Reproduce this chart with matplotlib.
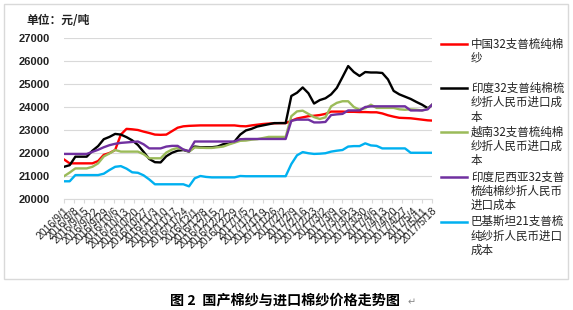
import matplotlib
matplotlib.use("Agg")
import matplotlib.pyplot as plt
import matplotlib.dates as mdates
from matplotlib.lines import Line2D
from matplotlib.patches import Rectangle
import pandas as pd

# ---------------- data ----------------
dates = pd.date_range("2016-09-01", periods=65, freq="4D").append(pd.DatetimeIndex(["2017-05-18"]))

china_32 = [21720, 21550, 21550, 21550, 21550, 21550, 21650, 21920, 22000, 22130,
            22800, 23050, 23030, 23000, 22930, 22870, 22800, 22790, 22800, 22950,
            23100, 23160, 23180, 23190, 23200, 23200, 23200, 23200, 23200, 23200,
            23200, 23170, 23160, 23200, 23230, 23260, 23280, 23290, 23300, 23300,
            23400, 23500, 23550, 23600, 23620, 23650, 23700, 23800, 23800, 23800,
            23790, 23790, 23780, 23780, 23770, 23770, 23720, 23640, 23580, 23530,
            23520, 23510, 23480, 23450, 23420, 23410]

india_32 = [21400, 21470, 21840, 21840, 21840, 22100, 22300, 22600, 22700, 22830,
            22800, 22690, 22550, 22350, 22050, 21740, 21600, 21590, 21860, 22010,
            22100, 22130, 22060, 22280, 22250, 22250, 22250, 22280, 22380, 22400,
            22500, 22800, 22980, 23050, 23150, 23200, 23250, 23300, 23300, 23300,
            24480, 24620, 24850, 24600, 24150, 24300, 24380, 24550, 24830, 25300,
            25780, 25520, 25350, 25520, 25500, 25500, 25480, 25200, 24700, 24550,
            24450, 24350, 24220, 24100, 23950, 24080]

vietnam_32 = [20990, 21150, 21330, 21330, 21330, 21400, 21550, 21850, 21980, 22130,
              22060, 22060, 22060, 22060, 21950, 21770, 21770, 21770, 22020, 22150,
              22220, 22150, 22070, 22240, 22230, 22220, 22220, 22250, 22280, 22370,
              22450, 22530, 22540, 22580, 22600, 22650, 22700, 22700, 22700, 22700,
              23600, 23810, 23840, 23700, 23560, 23480, 23550, 24030, 24180, 24250,
              24250, 24000, 23880, 23950, 24100, 23960, 23960, 23960, 23960, 23900,
              23880, 23900, 23880, 23850, 23920, 24100]

indonesia_32 = [21960, 21960, 21960, 21960, 21960, 22050, 22140, 22250, 22340, 22400,
                22440, 22460, 22480, 22500, 22380, 22200, 22200, 22200, 22280, 22310,
                22310, 22150, 22080, 22500, 22500, 22500, 22500, 22500, 22500, 22500,
                22500, 22600, 22610, 22610, 22610, 22610, 22610, 22610, 22610, 22610,
                23400, 23450, 23450, 23450, 23330, 23330, 23350, 23650, 23680, 23700,
                23850, 23850, 23850, 24000, 24030, 24030, 24030, 24030, 24030, 24030,
                24030, 23850, 23850, 23850, 23900, 24100]

pakistan_21 = [20770, 20770, 21040, 21040, 21040, 21040, 21040, 21100, 21260, 21400,
               21430, 21320, 21160, 21140, 21030, 20850, 20640, 20640, 20640, 20640,
               20640, 20640, 20550, 20900, 21000, 20960, 20940, 20940, 20940, 20940,
               20940, 21000, 20990, 20990, 20990, 20990, 20990, 20990, 20990, 20990,
               21520, 21900, 22040, 21990, 21960, 21970, 21990, 22060, 22100, 22130,
               22280, 22300, 22300, 22420, 22330, 22310, 22200, 22200, 22200, 22200,
               22200, 22010, 22010, 22010, 22010, 22010]

series_labels = ["中国32支普梳纯棉\n纱",
                 "印度32支普纯棉梳\n纱折人民币进口成\n本",
                 "越南32支普梳纯棉\n纱折人民币进口成\n本",
                 "印度尼西亚32支普\n梳纯棉纱折人民币\n进口成本",
                 "巴基斯坦21支普梳\n纯纱折人民币进口\n成本"]
series_colors = ["#ff0000", "#000000", "#9bbb59", "#7030a0", "#00b0f0"]

tick_dates = pd.date_range("2016-09-01", "2017-05-18", freq="7D")
tick_labels = [f"{d.year}/{d.month}/{d.day}" for d in tick_dates]
y_ticks = [20000, 21000, 22000, 23000, 24000, 25000, 26000, 27000]

unit_text = "单位：元/吨"
caption_text = "图 2  国产棉纱与进口棉纱价格走势图"

# ---------------- figure ----------------
W, H = 573, 310
fig = plt.figure(figsize=(W / 100, H / 100), dpi=100)
fig.patch.set_facecolor("white")

def fx(px):
    return px / W

def fy(py):
    return 1 - py / H

ax = fig.add_axes([fx(64), fy(199), (432 - 64) / W, (199 - 38) / H])

all_series = [china_32, india_32, vietnam_32, indonesia_32, pakistan_21]
for vals, col in zip(all_series, series_colors):
    ax.plot(dates, vals, color=col, lw=1.7, solid_joinstyle="round", zorder=3)

ax.set_ylim(20000, 27000)
ax.set_yticks(y_ticks)
ax.set_yticklabels([str(v) for v in y_ticks], family="Liberation Sans",
                   fontsize=8, fontweight="bold", color="#222222")
ax.set_xlim(dates[0], dates[-1])
ax.set_xticks(tick_dates)
ax.set_xticklabels(tick_labels, rotation=45, ha="right", rotation_mode="anchor",
                   family="Liberation Sans", fontsize=7.5, color="#222222")

ax.grid(axis="y", color="#d9d9d9", lw=0.8)
ax.set_axisbelow(True)
for s in ["top", "right", "left"]:
    ax.spines[s].set_visible(False)
ax.spines["bottom"].set_color("#d9d9d9")
ax.spines["bottom"].set_linewidth(0.8)
ax.tick_params(axis="y", length=0, pad=10)
ax.tick_params(axis="x", length=3, color="#d9d9d9", pad=2)

cjk = ["Noto Sans CJK SC", "DejaVu Sans"]

# unit label
fig.text(fx(26), fy(20), unit_text, family=cjk, fontsize=8.5, fontweight="bold",
         va="center", ha="left", color="#222222")

# legend (manual)
entry_y = [[44, 58], [88.3, 102.7, 117], [132, 146.3, 160.7],
           [176.7, 191, 205.3], [221.7, 236, 250.3]]
for lab, col, ys in zip(series_labels, series_colors, entry_y):
    fig.add_artist(Line2D([fx(441), fx(467)], [fy(ys[0]), fy(ys[0])],
                          color=col, lw=1.8, transform=fig.transFigure))
    for line, yy in zip(lab.split("\n"), ys):
        fig.text(fx(471), fy(yy), line, family=cjk, fontsize=8.3,
                 va="center", ha="left", color="#222222")

# outer frame
fig.add_artist(Rectangle((fx(4), fy(279)), (568 - 4) / W, (279 - 4) / H,
                         transform=fig.transFigure, fill=False,
                         ec="#d9d9d9", lw=1))

# caption
fig.text(fx(170), fy(301), caption_text, family=cjk, fontsize=10.2,
         fontweight="bold", va="center", ha="left", color="#000000")
fig.text(fx(408), fy(302), "↵", family=["DejaVu Sans"], fontsize=7,
         va="center", ha="left", color="#888888")

fig.savefig("out.png", dpi=100, facecolor="white")
